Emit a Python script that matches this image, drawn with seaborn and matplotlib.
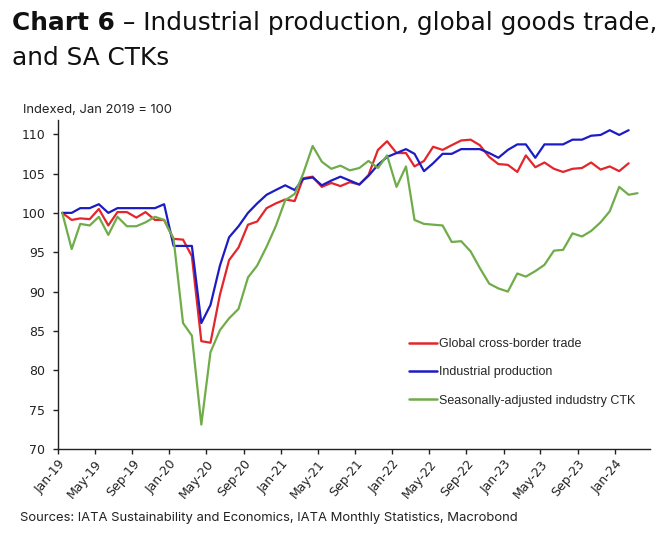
import numpy as np
import pandas as pd
import matplotlib
matplotlib.use("Agg")
import matplotlib.pyplot as plt
import matplotlib.dates as mdates
import seaborn as sns

# ---------------- data ----------------
months = pd.date_range("2019-01-01", "2024-03-01", freq="MS")

industrial_production = [
    100.0, 100.0, 100.6, 100.6, 101.1, 100.0, 100.6, 100.6, 100.6, 100.6, 100.6, 101.1,
    95.8, 95.8, 95.8, 86.0, 88.3, 93.3, 96.9, 98.3, 100.0, 101.2, 102.3, 102.9,
    103.5, 102.9, 104.3, 104.5, 103.5, 104.1, 104.6, 104.1, 103.6, 104.7, 106.1, 107.1,
    107.6, 108.1, 107.5, 105.3, 106.3, 107.5, 107.5, 108.1, 108.1, 108.1, 107.6, 107.0,
    108.0, 108.7, 108.7, 107.0, 108.7, 108.7, 108.7, 109.3, 109.3, 109.8, 109.9, 110.5,
    109.9, 110.5, np.nan,
]
global_trade = [
    100.0, 99.1, 99.3, 99.2, 100.5, 98.4, 100.1, 100.1, 99.4, 100.1, 99.1, 99.1,
    96.7, 96.6, 94.5, 83.7, 83.5, 89.6, 94.0, 95.6, 98.5, 98.9, 100.6, 101.2,
    101.7, 101.5, 104.4, 104.6, 103.3, 103.8, 103.4, 103.9, 103.6, 104.8, 108.0, 109.1,
    107.6, 107.6, 105.9, 106.6, 108.4, 108.0, 108.6, 109.2, 109.3, 108.6, 107.1, 106.2,
    106.1, 105.2, 107.3, 105.8, 106.4, 105.6, 105.2, 105.6, 105.7, 106.4, 105.5, 105.9,
    105.3, 106.3, np.nan,
]
sa_ctk = [
    100.0, 95.4, 98.6, 98.4, 99.5, 97.2, 99.5, 98.3, 98.3, 98.8, 99.5, 99.1,
    96.7, 86.0, 84.4, 73.1, 82.3, 85.1, 86.6, 87.8, 91.8, 93.3, 95.7, 98.3,
    101.6, 102.4, 105.0, 108.5, 106.5, 105.6, 106.0, 105.4, 105.7, 106.6, 105.7, 107.3,
    103.3, 105.9, 99.1, 98.6, 98.5, 98.4, 96.3, 96.4, 95.1, 93.0, 91.0, 90.4,
    90.0, 92.3, 91.9, 92.6, 93.4, 95.2, 95.3, 97.4, 97.0, 97.7, 98.8, 100.2,
    103.3, 102.3, 102.5,
]
series_names = ["Global cross-border trade", "Industrial production",
                "Seasonally-adjusted indudstry CTK"]
series_colors = ["#e3262b", "#1c1cc4", "#70ac4a"]
y_ticks = [70, 75, 80, 85, 90, 95, 100, 105, 110]

title_bold = "Chart 6"
title_rest = " \u2013 Industrial production, global goods trade,"
title_line2 = "and SA CTKs"
y_note = "Indexed, Jan 2019 = 100"
source_note = "Sources: IATA Sustainability and Economics, IATA Monthly Statistics, Macrobond"

# mid-month positions for monthly observations
mid = months + pd.Timedelta(days=14)
df = pd.DataFrame({
    "date": np.tile(mid, 3),
    "value": np.concatenate([global_trade, industrial_production, sa_ctk]),
    "series": np.repeat(series_names, len(months)),
}).dropna()

# ---------------- plot ----------------
sns.set_theme(style="ticks")
plt.rcParams["font.family"] = ["DejaVu Sans"]

fig = plt.figure(figsize=(6.71, 5.40), dpi=100)
ax = fig.add_axes([0.0864, 0.1685, 0.8823, 0.6093])

sns.lineplot(data=df, x="date", y="value", hue="series", hue_order=series_names,
             palette=dict(zip(series_names, series_colors)), linewidth=1.6, ax=ax)

ax.set_xlim(pd.Timestamp("2019-01-01"), pd.Timestamp("2024-04-25"))
ax.set_ylim(70, 111.8)
ax.set_yticks(y_ticks)
ax.xaxis.set_major_locator(mdates.MonthLocator(bymonth=[1, 5, 9]))
ax.xaxis.set_major_formatter(mdates.DateFormatter("%b-%y"))
ax.set_xlabel("")
ax.set_ylabel("")
ax.tick_params(axis="both", labelsize=9, length=3.8, width=1, colors="#222222",
               direction="out")
ax.tick_params(axis="y", pad=5.5)
ax.tick_params(axis="x", pad=2)
for lab in ax.get_xticklabels():
    lab.set_rotation(50)
    lab.set_ha("right")
    lab.set_rotation_mode("anchor")
for s in ["top", "right"]:
    ax.spines[s].set_visible(False)
for s in ["left", "bottom"]:
    ax.spines[s].set_color("#222222")
    ax.spines[s].set_linewidth(1.0)

leg = ax.legend(loc="upper left", bbox_to_anchor=(0.585, 0.352), frameon=False,
                prop={"family": ["Liberation Sans"], "size": 9},
                handlelength=2.2, handletextpad=0.15, labelspacing=1.3,
                borderaxespad=0)
for lh in leg.get_lines():
    lh.set_linewidth(1.8)

# title (bold lead + regular rest)
tfs = 17.8
t1 = fig.text(12.5 / 671, 1 - 30 / 540, title_bold, fontsize=tfs, fontweight="bold",
              color="#111111", va="baseline", ha="left")
fig.canvas.draw()
bb = t1.get_window_extent(renderer=fig.canvas.get_renderer())
fig.text(bb.x1 / fig.bbox.width, 1 - 30 / 540, title_rest, fontsize=tfs,
         color="#111111", va="baseline", ha="left")
fig.text(12.5 / 671, 1 - 65 / 540, title_line2, fontsize=tfs, color="#111111",
         va="baseline", ha="left")

fig.text(23 / 671, 1 - 113 / 540, y_note, fontsize=9.4, color="#222222",
         family=["Inter", "DejaVu Sans"], va="baseline", ha="left")
fig.text(20 / 671, 1 - 521 / 540, source_note, fontsize=9.4, color="#222222",
         family=["Inter", "DejaVu Sans"], va="baseline", ha="left")

fig.savefig("out.png", dpi=100)
